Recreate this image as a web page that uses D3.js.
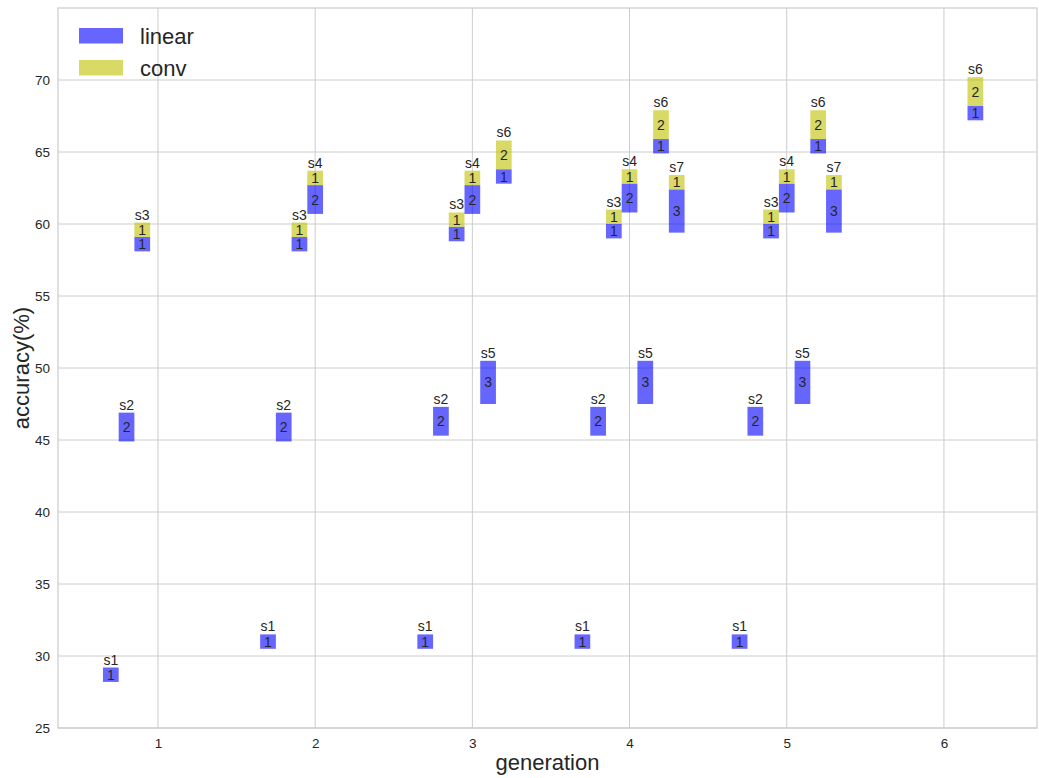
<!DOCTYPE html>
<html>
<head>
<meta charset="utf-8">
<script src="https://cdn.jsdelivr.net/npm/d3@7"></script>
<style>
  body { margin: 0; background: #fff; }
  text { font-family: "Liberation Sans", Arial, sans-serif; fill: #262626; }
</style>
</head>
<body>
<svg id="chart"></svg>
<script>
// one entry per bar: generation, stage, bottom accuracy, linear layers, conv layers
const generations = [1, 1, 1,  2, 2, 2, 2,  3, 3, 3, 3, 3, 3,  4, 4, 4, 4, 4, 4, 4,  5, 5, 5, 5, 5, 5, 5,  6];
const stages      = [1, 2, 3,  1, 2, 3, 4,  1, 2, 3, 4, 5, 6,  1, 2, 3, 4, 5, 6, 7,  1, 2, 3, 4, 5, 6, 7,  6];
const bottoms     = [28.2, 44.9, 58.1,
                     30.5, 44.9, 58.1, 60.7,
                     30.5, 45.3, 58.8, 60.7, 47.5, 62.8,
                     30.5, 45.3, 59.0, 60.8, 47.5, 64.9, 59.4,
                     30.5, 45.3, 59.0, 60.8, 47.5, 64.9, 59.4,
                     67.2];
const linearLayers = [1, 2, 1,  1, 2, 1, 2,  1, 2, 1, 2, 3, 1,  1, 2, 1, 2, 3, 1, 3,  1, 2, 1, 2, 3, 1, 3,  1];
const convLayers   = [0, 0, 1,  0, 0, 1, 1,  0, 0, 1, 1, 0, 2,  0, 0, 1, 1, 0, 2, 1,  0, 0, 1, 1, 0, 2, 1,  2];

const xTicks = [1, 2, 3, 4, 5, 6];
const yTicks = [25, 30, 35, 40, 45, 50, 55, 60, 65, 70];
const seriesNames = ["linear", "conv"];
const seriesColors = ["#0000ff", "#bfbf00"];

const w = 1039, h = 778;
const mLeft = 58, mRight = 1037, mTop = 8, mBottom = 728;
const barWidth = 0.1;

const svg = d3.select("#chart").attr("width", w).attr("height", h);

const x = d3.scaleLinear().domain([0.364, 6.592]).range([mLeft, mRight]);
const y = d3.scaleLinear().domain([25, 75]).range([mBottom, mTop]);

// grid
svg.append("g").selectAll("line").data(xTicks).enter().append("line")
  .attr("x1", d => x(d)).attr("x2", d => x(d))
  .attr("y1", mTop).attr("y2", mBottom)
  .attr("stroke", "#cccccc").attr("stroke-width", 1);
svg.append("g").selectAll("line").data(yTicks).enter().append("line")
  .attr("x1", mLeft).attr("x2", mRight)
  .attr("y1", d => y(d)).attr("y2", d => y(d))
  .attr("stroke", "#cccccc").attr("stroke-width", 1);

svg.append("rect")
  .attr("x", mLeft).attr("y", mTop)
  .attr("width", mRight - mLeft).attr("height", mBottom - mTop)
  .attr("fill", "none").attr("stroke", "#cccccc").attr("stroke-width", 1.2);

// axes (labels only, no tick marks)
const xAxis = svg.append("g").attr("transform", `translate(0,${mBottom})`)
  .call(d3.axisBottom(x).tickValues(xTicks).tickSize(0).tickPadding(10).tickFormat(d3.format("d")));
const yAxis = svg.append("g").attr("transform", `translate(${mLeft},0)`)
  .call(d3.axisLeft(y).tickValues(yTicks).tickSize(0).tickPadding(8).tickFormat(d3.format("d")));
[xAxis, yAxis].forEach(a => {
  a.select(".domain").remove();
  a.selectAll("text").attr("font-size", 13.5).attr("font-family", "Liberation Sans, Arial, sans-serif").attr("fill", "#262626");
});

// bars
const bars = generations.map((g, i) => ({
  pos: g + (stages[i] - 4) * 0.1,
  stage: stages[i],
  base: bottoms[i],
  lin: linearLayers[i],
  conv: convLayers[i]
}));

const segs = [];
bars.forEach(b => {
  segs.push({ pos: b.pos, y0: b.base, y1: b.base + b.lin, n: b.lin, s: 0 });
  if (b.conv > 0) segs.push({ pos: b.pos, y0: b.base + b.lin, y1: b.base + b.lin + b.conv, n: b.conv, s: 1 });
});

const bw = x(barWidth) - x(0);

svg.append("g").selectAll("rect").data(segs).enter().append("rect")
  .attr("x", d => x(d.pos) - bw / 2)
  .attr("width", bw)
  .attr("y", d => y(d.y1))
  .attr("height", d => y(d.y0) - y(d.y1))
  .attr("fill", d => seriesColors[d.s])
  .attr("fill-opacity", 0.6);

svg.append("g").selectAll("text").data(segs).enter().append("text")
  .attr("x", d => x(d.pos))
  .attr("y", d => y((d.y0 + d.y1) / 2))
  .attr("dy", "0.36em")
  .attr("text-anchor", "middle")
  .attr("font-size", 14)
  .text(d => d.n);

svg.append("g").selectAll("text").data(bars).enter().append("text")
  .attr("x", d => x(d.pos))
  .attr("y", d => y(d.base + d.lin + d.conv) - 3)
  .attr("text-anchor", "middle")
  .attr("font-size", 14)
  .text(d => "s" + d.stage);

// legend
const legend = svg.append("g");
seriesNames.forEach((name, i) => {
  legend.append("rect")
    .attr("x", 79).attr("y", 28 + i * 32)
    .attr("width", 44).attr("height", 15.5)
    .attr("fill", seriesColors[i]).attr("fill-opacity", 0.6);
  legend.append("text")
    .attr("x", 140).attr("y", 44 + i * 32)
    .attr("font-size", 22)
    .text(name);
});

// axis titles
svg.append("text")
  .attr("x", (mLeft + mRight) / 2).attr("y", 770)
  .attr("text-anchor", "middle")
  .attr("font-size", 22)
  .text("generation");
svg.append("text")
  .attr("transform", `translate(29,${(mTop + mBottom) / 2}) rotate(-90)`)
  .attr("text-anchor", "middle")
  .attr("font-size", 22)
  .text("accuracy(%)");
</script>
</body>
</html>
